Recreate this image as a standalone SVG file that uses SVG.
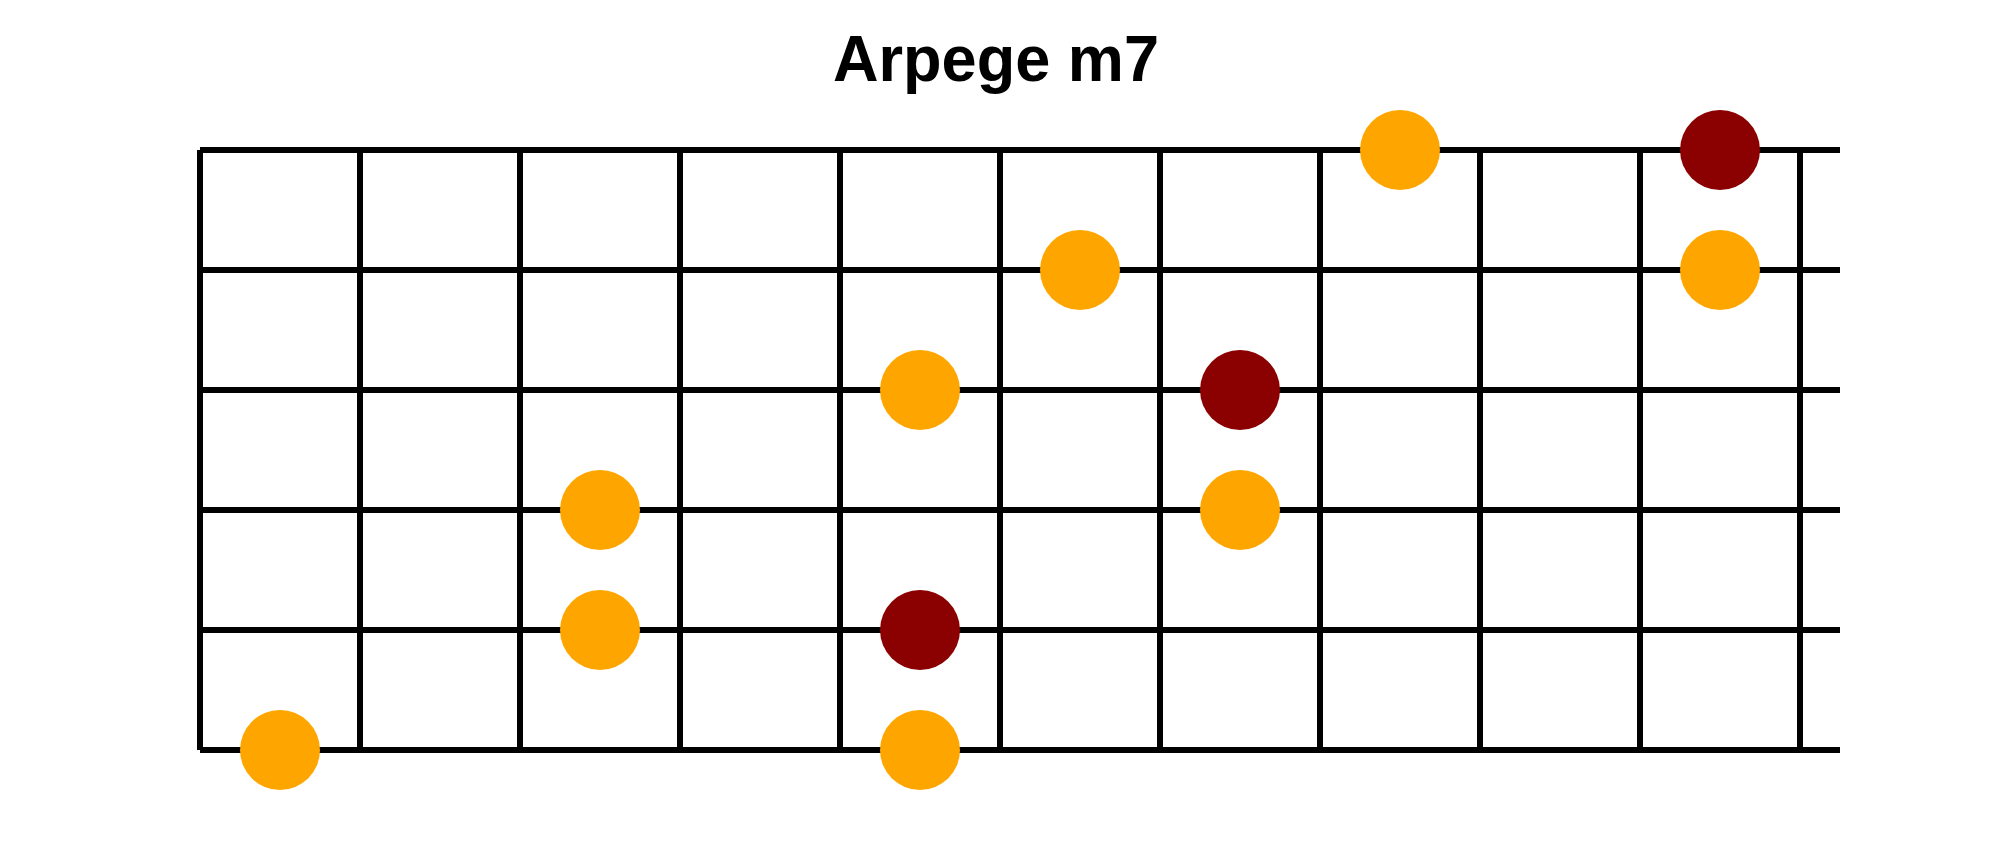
<svg xmlns="http://www.w3.org/2000/svg" width="2000" height="850" viewBox="0 0 2000 850">
<style>
.str{stroke:#000;stroke-width:6;fill:none}
.fret{stroke:#000;stroke-width:6;fill:none}
.n{fill:#FFA500}
.r{fill:#8B0000}
.title{font-family:"Liberation Sans",Arial,sans-serif;font-weight:bold;font-size:65px;fill:#000;text-anchor:middle}
</style>
<rect width="2000" height="850" fill="#fff"/>
<text class="title" x="996" y="81" textLength="326" lengthAdjust="spacingAndGlyphs">Arpege m7</text>
<g id="connectors">
<g id="frets">
<line class="fret" x1="200" y1="150" x2="200" y2="750"/>
<line class="fret" x1="360" y1="150" x2="360" y2="750"/>
<line class="fret" x1="520" y1="150" x2="520" y2="750"/>
<line class="fret" x1="680" y1="150" x2="680" y2="750"/>
<line class="fret" x1="840" y1="150" x2="840" y2="750"/>
<line class="fret" x1="1000" y1="150" x2="1000" y2="750"/>
<line class="fret" x1="1160" y1="150" x2="1160" y2="750"/>
<line class="fret" x1="1320" y1="150" x2="1320" y2="750"/>
<line class="fret" x1="1480" y1="150" x2="1480" y2="750"/>
<line class="fret" x1="1640" y1="150" x2="1640" y2="750"/>
<line class="fret" x1="1800" y1="150" x2="1800" y2="750"/>
</g>
<g id="strings">
<line class="str" x1="200" y1="150" x2="1840" y2="150"/>
<line class="str" x1="200" y1="270" x2="1840" y2="270"/>
<line class="str" x1="200" y1="390" x2="1840" y2="390"/>
<line class="str" x1="200" y1="510" x2="1840" y2="510"/>
<line class="str" x1="200" y1="630" x2="1840" y2="630"/>
<line class="str" x1="200" y1="750" x2="1840" y2="750"/>
</g>
</g>
<g id="n1"><circle class="n" cx="1400" cy="150" r="40"/></g>
<g id="n2"><circle class="r" cx="1720" cy="150" r="40"/></g>
<g id="n3"><circle class="n" cx="1080" cy="270" r="40"/></g>
<g id="n4"><circle class="n" cx="1720" cy="270" r="40"/></g>
<g id="n5"><circle class="n" cx="920" cy="390" r="40"/></g>
<g id="n6"><circle class="r" cx="1240" cy="390" r="40"/></g>
<g id="n7"><circle class="n" cx="600" cy="510" r="40"/></g>
<g id="n8"><circle class="n" cx="1240" cy="510" r="40"/></g>
<g id="n9"><circle class="n" cx="600" cy="630" r="40"/></g>
<g id="n10"><circle class="r" cx="920" cy="630" r="40"/></g>
<g id="n11"><circle class="n" cx="280" cy="750" r="40"/></g>
<g id="n12"><circle class="n" cx="920" cy="750" r="40"/></g>
</svg>
